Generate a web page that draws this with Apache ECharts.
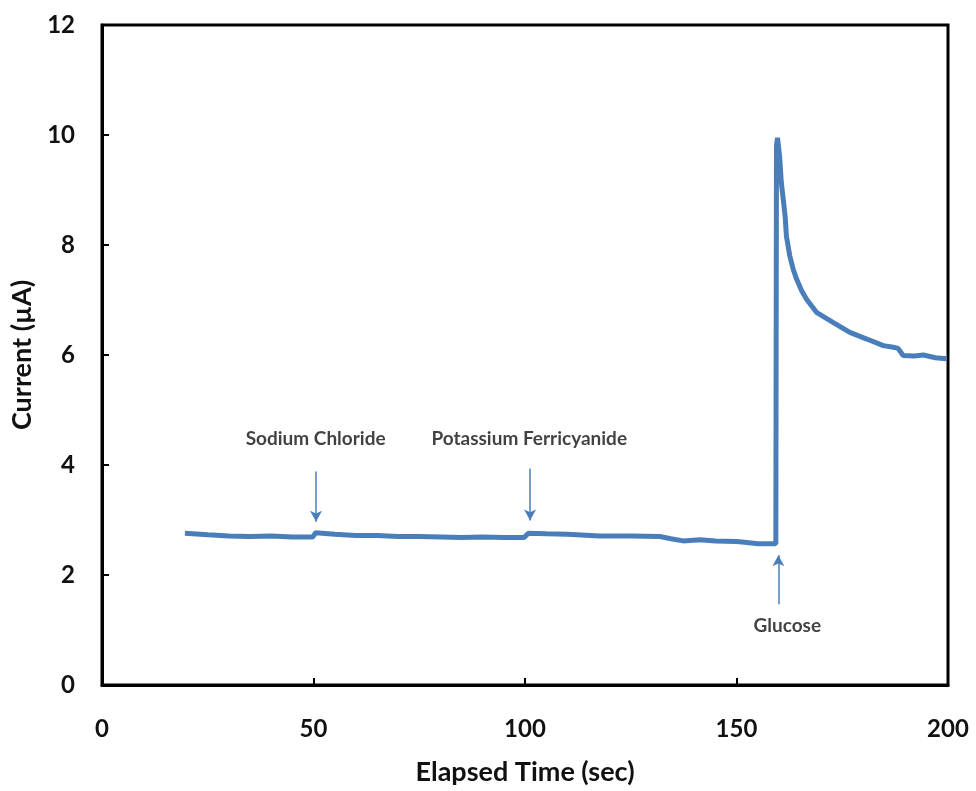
<!DOCTYPE html>
<html>
<head>
<meta charset="utf-8">
<script src="https://cdn.jsdelivr.net/npm/echarts@6/dist/echarts.min.js"></script>
<style>
html,body{margin:0;padding:0;background:#fff;}
#chart{width:976px;height:791px;}
</style>
</head>
<body>
<div id="chart"></div>
<script>
// Elapsed time (sec)
const timeSec = [19.6, 25, 30, 35, 40, 45, 49.8, 50.5, 55, 60, 65, 70, 75, 80, 85, 90, 95, 99.8, 100.8, 105, 110, 117.7, 125, 131.9, 134.5, 137.4, 141.4, 145, 150, 152.5, 155, 158, 159.3, 159.45, 159.7, 160.2, 160.6, 161.1, 161.5, 161.8, 162.6, 163.4, 164.2, 165.4, 166.6, 169.0, 172.9, 176.8, 180.8, 184.7, 187.1, 188.2, 189.4, 192, 194.2, 197, 199.7];
// Current (µA)
const currentUA = [2.76, 2.73, 2.71, 2.70, 2.71, 2.69, 2.69, 2.77, 2.74, 2.72, 2.72, 2.70, 2.70, 2.69, 2.68, 2.69, 2.68, 2.68, 2.76, 2.75, 2.74, 2.71, 2.71, 2.70, 2.66, 2.62, 2.64, 2.62, 2.61, 2.59, 2.57, 2.57, 2.57, 9.80, 9.95, 9.60, 9.13, 8.80, 8.52, 8.16, 7.80, 7.56, 7.38, 7.17, 7.01, 6.77, 6.59, 6.41, 6.29, 6.17, 6.14, 6.12, 5.99, 5.98, 6.00, 5.95, 5.93];

// Annotations
const noteLabels = ['Sodium Chloride', 'Potassium Ferricyanide', 'Glucose'];
const noteX = [50.5, 101.0, 162.0];
const noteY = [4.48, 4.48, 1.07];
// Arrows: start (tail) and end (head) in data coordinates
const arrowX = [50.6, 101.2, 159.9];
const arrowTailY = [3.88, 3.93, 1.47];
const arrowHeadY = [2.97, 2.99, 2.36];

const xTicks = {min: 0, max: 200, interval: 50};
const yTicks = {min: 0, max: 12, interval: 2};

const lineColor = '#4a7ebb';
const fontFam = 'Lato, "Open Sans", sans-serif';

const chart = echarts.init(document.getElementById('chart'));
chart.setOption({
  animation: false,
  grid: {left: 102, top: 25, right: 28, bottom: 104, show: true, borderColor: '#000', borderWidth: 3, backgroundColor: 'transparent'},
  xAxis: {
    type: 'value', min: xTicks.min, max: xTicks.max, interval: xTicks.interval,
    name: 'Elapsed Time (sec)', nameLocation: 'middle', nameGap: 74,
    nameTextStyle: {fontFamily: fontFam, fontWeight: 'bold', fontSize: 27, color: '#111'},
    axisLine: {show: true, onZero: false, lineStyle: {color: '#000', width: 3}},
    axisTick: {show: true, inside: true, length: 7, lineStyle: {color: '#000', width: 2}},
    axisLabel: {fontFamily: fontFam, fontWeight: 'bold', fontSize: 24, color: '#111', margin: 32},
    splitLine: {show: false}
  },
  yAxis: {
    type: 'value', min: yTicks.min, max: yTicks.max, interval: yTicks.interval,
    name: 'Current (µA)', nameLocation: 'middle', nameGap: 63, nameRotate: 90,
    nameTextStyle: {fontFamily: fontFam, fontWeight: 'bold', fontSize: 27, color: '#111'},
    axisLine: {show: true, onZero: false, lineStyle: {color: '#000', width: 3}},
    axisTick: {show: true, inside: true, length: 7, lineStyle: {color: '#000', width: 2}},
    axisLabel: {fontFamily: fontFam, fontWeight: 'bold', fontSize: 24, color: '#111', margin: 27},
    splitLine: {show: false}
  },
  series: [
    {
      type: 'line',
      data: timeSec.map((t, i) => [t, currentUA[i]]),
      showSymbol: false,
      lineStyle: {color: lineColor, width: 5},
      z: 3,
      markLine: {
        silent: true,
        symbol: ['none', 'arrow'],
        symbolSize: [9, 11],
        lineStyle: {color: lineColor, width: 1.5, type: 'solid'},
        label: {show: false},
        data: arrowX.map((x, i) => [{coord: [x, arrowTailY[i]]}, {coord: [x, arrowHeadY[i]]}])
      }
    },
    {
      type: 'scatter',
      data: noteX.map((x, i) => [x, noteY[i], noteLabels[i]]),
      symbolSize: 0,
      silent: true,
      label: {
        show: true, position: 'inside',
        formatter: p => p.data[2],
        fontFamily: fontFam, fontSize: 19, fontWeight: 'bold', color: '#111'
      }
    }
  ]
});
</script>
</body>
</html>
